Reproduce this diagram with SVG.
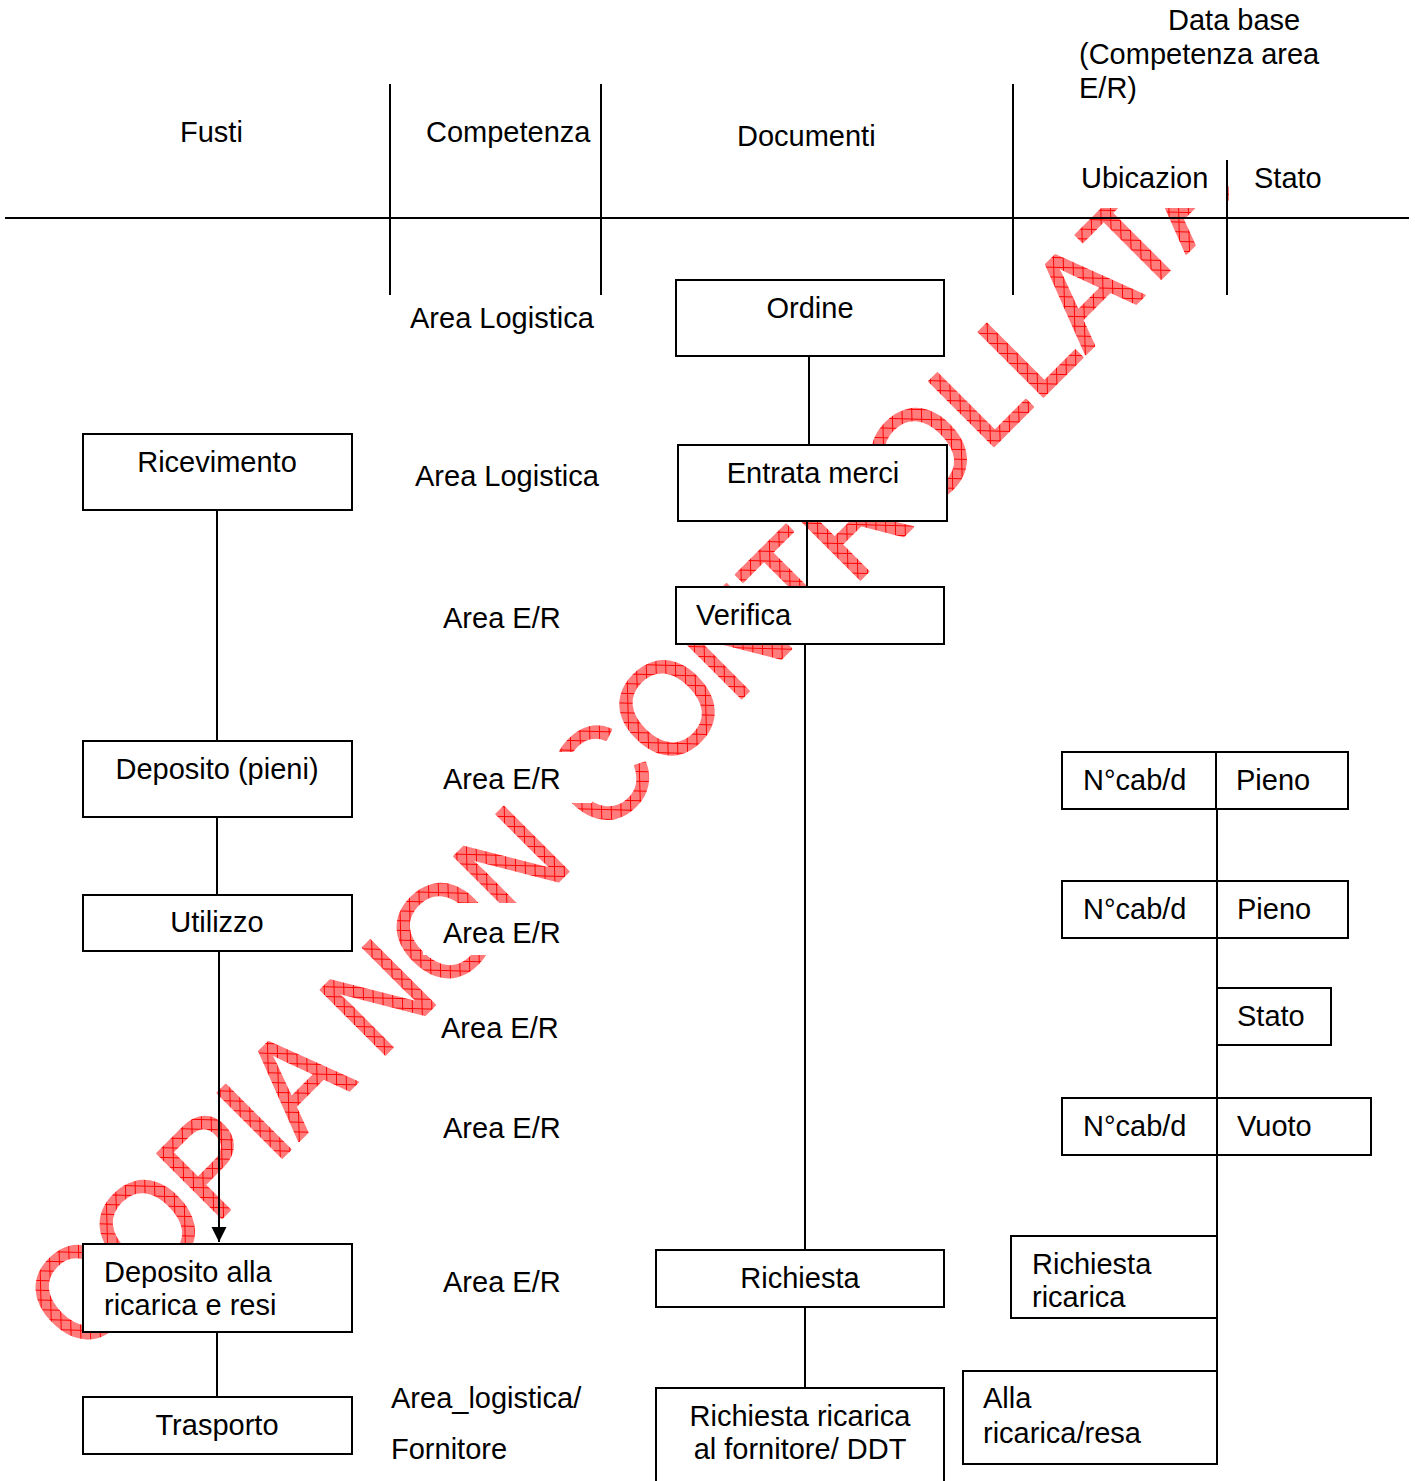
<svg xmlns="http://www.w3.org/2000/svg" width="1415" height="1481" viewBox="0 0 1415 1481">
  <style>
    text { font-family: "Liberation Sans", Arial, sans-serif; font-size: 29px; fill: #000; }
    .box { fill: #fff; stroke: #000; stroke-width: 2; }
    .rule { stroke: #000; stroke-width: 2; fill: none; }
    .link { stroke: #000; stroke-width: 2; fill: none; }
    .frame { fill: #fff; stroke: none; }
    .mid { text-anchor: middle; }
    .stamp { font-size: 133px; fill: url(#hatch); stroke: url(#hatch); stroke-width: 2; stroke-linejoin: round; }
  </style>
  <defs>
    <!-- red cross-hatch fill for the stamp lettering, kept aligned to the page -->
    <pattern id="hatch" width="10" height="10" patternUnits="userSpaceOnUse" patternTransform="rotate(45)">
      <rect width="10" height="10" fill="#ff7c7c"/>
      <path d="M0 0.5H10M0.5 0V10" stroke="#ff0000" stroke-width="1"/>
    </pattern>
    <marker id="arrow" markerWidth="16" markerHeight="16" refX="15" refY="7.5" orient="auto" markerUnits="userSpaceOnUse">
      <path d="M0 0L15 7.5L0 15Z" fill="#000"/>
    </marker>
  </defs>

  <rect width="1415" height="1481" fill="#fff"/>

  <!-- diagonal stamp, drawn first so boxes and text frames sit over it -->
  <g id="stamp">
    <text class="stamp" transform="translate(81,1359) rotate(-45) scale(0.947,1)">COPIA NON CONTROLLATA</text>
  </g>

  <!-- column headers and grid rules -->
  <g id="header">
    <line class="rule" x1="5" y1="218" x2="1409" y2="218"/>
    <line class="rule" x1="390" y1="84" x2="390" y2="295"/>
    <line class="rule" x1="601" y1="84" x2="601" y2="295"/>
    <line class="rule" x1="1013" y1="84" x2="1013" y2="295"/>
    <rect class="frame" x="1075" y="150" width="151" height="58"/>
    <rect class="frame" x="1229" y="150" width="106" height="58"/>
    <line class="rule" x1="1227" y1="160" x2="1227" y2="295"/>
    <text x="180" y="142">Fusti</text>
    <text x="426" y="142">Competenza</text>
    <text x="737" y="146">Documenti</text>
    <text x="1168" y="30">Data base</text>
    <text x="1079" y="64">(Competenza area</text>
    <text x="1079" y="98">E/R)</text>
    <text x="1081" y="188">Ubicazion</text>
    <text x="1254" y="188">Stato</text>
  </g>

  <!-- competence column labels -->
  <g id="competenza">
    <text x="410" y="328">Area Logistica</text>
    <text x="415" y="486">Area Logistica</text>
    <text x="443" y="628">Area E/R</text>
    <rect class="frame" x="423" y="752" width="169" height="51"/>
    <text x="443" y="789">Area E/R</text>
    <rect class="frame" x="423" y="903" width="169" height="52"/>
    <text x="443" y="943">Area E/R</text>
    <text x="441" y="1038">Area E/R</text>
    <text x="443" y="1138">Area E/R</text>
    <text x="443" y="1292">Area E/R</text>
    <text x="391" y="1408">Area_logistica/</text>
    <text x="391" y="1459">Fornitore</text>
  </g>

  <!-- connectors -->
  <g id="connectors">
    <line class="link" x1="217" y1="510" x2="217" y2="741"/>
    <line class="link" x1="217" y1="817" x2="217" y2="895"/>
    <line class="link" x1="219" y1="951" x2="219" y2="1242" marker-end="url(#arrow)"/>
    <line class="link" x1="217" y1="1332" x2="217" y2="1397"/>
    <line class="link" x1="809" y1="356" x2="809" y2="445"/>
    <line class="link" x1="807" y1="521" x2="807" y2="587"/>
    <line class="link" x1="805" y1="644" x2="805" y2="1250"/>
    <line class="link" x1="805" y1="1307" x2="805" y2="1388"/>
    <line class="link" x1="1217" y1="809" x2="1217" y2="1371"/>
  </g>

  <!-- process column (Fusti) -->
  <g id="ricevimento">
    <rect class="box" x="83" y="434" width="269" height="76"/>
    <text class="mid" x="217" y="472">Ricevimento</text>
  </g>
  <g id="deposito-pieni">
    <rect class="box" x="83" y="741" width="269" height="76"/>
    <text class="mid" x="217" y="779">Deposito (pieni)</text>
  </g>
  <g id="utilizzo">
    <rect class="box" x="83" y="895" width="269" height="56"/>
    <text class="mid" x="217" y="932">Utilizzo</text>
  </g>
  <g id="deposito-ricarica">
    <rect class="box" x="83" y="1244" width="269" height="88"/>
    <text x="104" y="1282">Deposito alla</text>
    <text x="104" y="1315">ricarica e resi</text>
  </g>
  <g id="trasporto">
    <rect class="box" x="83" y="1397" width="269" height="57"/>
    <text class="mid" x="217" y="1435">Trasporto</text>
  </g>

  <!-- documents column -->
  <g id="ordine">
    <rect class="box" x="676" y="280" width="268" height="76"/>
    <text class="mid" x="810" y="318">Ordine</text>
  </g>
  <g id="entrata-merci">
    <rect class="box" x="678" y="445" width="269" height="76"/>
    <text class="mid" x="813" y="483">Entrata merci</text>
  </g>
  <g id="verifica">
    <rect class="box" x="676" y="587" width="268" height="57"/>
    <text x="696" y="625">Verifica</text>
  </g>
  <g id="richiesta">
    <rect class="box" x="656" y="1250" width="288" height="57"/>
    <text class="mid" x="800" y="1288">Richiesta</text>
  </g>
  <g id="richiesta-fornitore">
    <rect class="box" x="656" y="1388" width="288" height="110"/>
    <text class="mid" x="800" y="1426">Richiesta ricarica</text>
    <text class="mid" x="800" y="1459">al fornitore/ DDT</text>
  </g>

  <!-- database column -->
  <g id="db-pieno-1">
    <rect class="box" x="1062" y="752" width="286" height="57"/>
    <line class="rule" x1="1216" y1="752" x2="1216" y2="809"/>
    <text x="1083" y="790">N°cab/d</text>
    <text x="1236" y="790">Pieno</text>
  </g>
  <g id="db-pieno-2">
    <rect class="box" x="1062" y="881" width="286" height="57"/>
    <line class="rule" x1="1217" y1="881" x2="1217" y2="938"/>
    <text x="1083" y="919">N°cab/d</text>
    <text x="1237" y="919">Pieno</text>
  </g>
  <g id="db-stato">
    <rect class="box" x="1217" y="988" width="114" height="57"/>
    <text x="1237" y="1026">Stato</text>
  </g>
  <g id="db-vuoto">
    <rect class="box" x="1062" y="1098" width="309" height="57"/>
    <line class="rule" x1="1217" y1="1098" x2="1217" y2="1155"/>
    <text x="1083" y="1136">N°cab/d</text>
    <text x="1237" y="1136">Vuoto</text>
  </g>
  <g id="db-richiesta-ricarica">
    <rect class="box" x="1011" y="1236" width="206" height="82"/>
    <text x="1032" y="1274">Richiesta</text>
    <text x="1032" y="1307">ricarica</text>
  </g>
  <g id="db-alla-ricarica">
    <rect class="box" x="963" y="1371" width="254" height="93"/>
    <text x="983" y="1408">Alla</text>
    <text x="983" y="1443">ricarica/resa</text>
  </g>
</svg>
